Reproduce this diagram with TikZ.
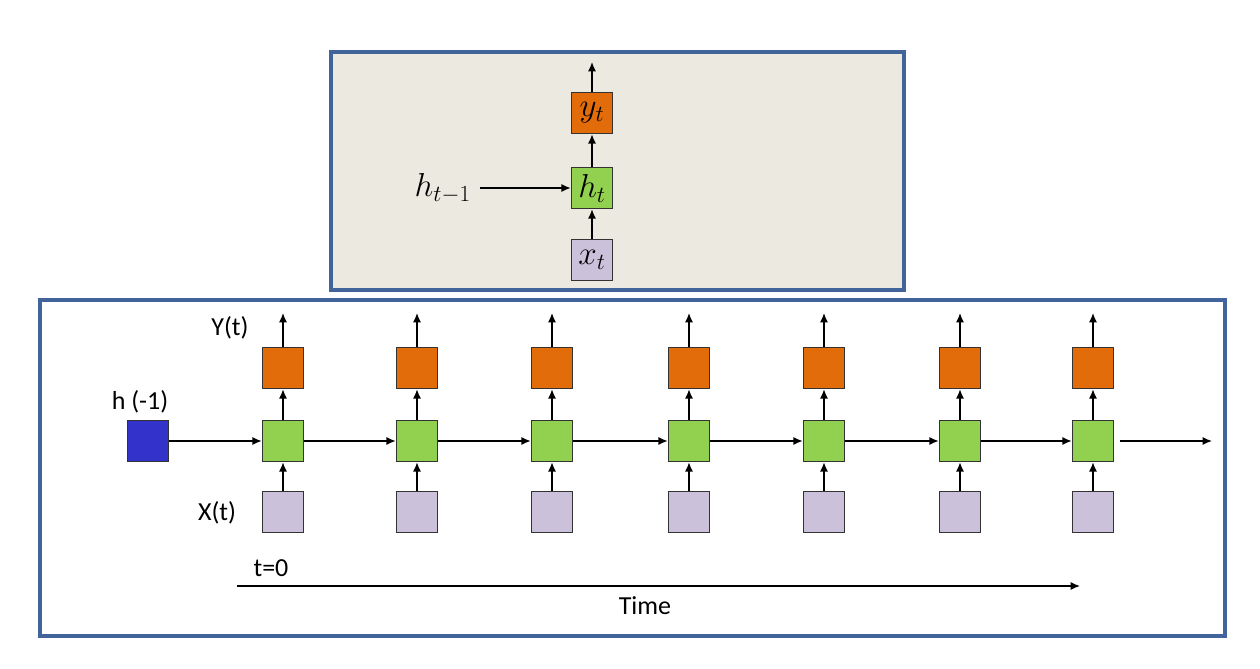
\documentclass[tikz,border=0pt]{standalone}
\usepackage{fontspec}
\setmainfont{Carlito}
\usetikzlibrary{arrows.meta}
\definecolor{frame}{HTML}{41659A}
\definecolor{bg}{HTML}{ECEAE0}
\definecolor{org}{HTML}{E36C0A}
\definecolor{grn}{HTML}{92D050}
\definecolor{pur}{HTML}{CCC1DA}
\definecolor{blu}{HTML}{3333CC}
\tikzset{
  cell/.style={draw=black!80, line width=0.9pt, minimum width=31pt, minimum height=31pt, inner sep=0pt, font=\fontsize{25}{27}\selectfont},
  ycell/.style={cell, fill=org},
  hcell/.style={cell, fill=grn},
  xcell/.style={cell, fill=pur},
  conn/.style={line width=1pt, -{Latex[length=7pt,width=6pt]}},
  lbl/.style={font=\fontsize{19.5}{21}\selectfont, inner sep=0pt},
  mlbl/.style={font=\fontsize{25}{27}\selectfont, inner sep=0pt},
  panel/.style={draw=frame, line width=2.4pt}
}
\begin{document}
\begin{tikzpicture}[x=0.75pt,y=-0.75pt]
\useasboundingbox (0,0) rectangle (1260,668);
% top panel
\draw[panel, fill=bg] (331,52) rectangle (904,290);
\node[ycell] (yt) at (592,113) {$y_t$};
\node[hcell] (ht) at (592,188) {$h_t$};
\node[xcell] (xt) at (592,260) {$x_t$};
\coordinate (ytop) at (592,62);
\node[mlbl, anchor=east] (hprev) at (471,188) {$h_{t-1}$};
\coordinate (hs) at (480,188);
\draw[conn] (xt) -- (ht);
\draw[conn] (ht) -- (yt);
\draw[conn] (yt) -- (ytop);
\draw[conn] (hs) -- (ht);
% bottom panel
\draw[panel] (40,300) rectangle (1225,636);
\node[cell, fill=blu] (h0) at (148,441) {};
\node[lbl] (h0l) at (140,402) {h (-1)};
\foreach \i/\x in {1/283,2/417,3/552,4/689,5/824,6/960,7/1093}{
  \node[ycell] (y\i) at (\x,368) {};
  \node[hcell] (h\i) at (\x,441) {};
  \node[xcell] (x\i) at (\x,512) {};
  \coordinate (o\i) at (\x,313);
  \draw[conn] (x\i) -- (h\i);
  \draw[conn] (h\i) -- (y\i);
  \draw[conn] (y\i) -- (o\i);
}
\draw[conn] (h0) -- (h1);
\foreach \a/\b in {1/2,2/3,3/4,4/5,5/6,6/7}{\draw[conn] (h\a) -- (h\b);}
\coordinate (hend) at (1212,441);
\draw[conn] ([xshift=4pt]h7.east) -- (hend);
\node[lbl] (ylab) at (230,328) {Y(t)};
\node[lbl] (xlab) at (217,513) {X(t)};
% time axis
\coordinate (ts) at (237,586);
\coordinate (te) at (1080,586);
\draw[conn] (ts) -- (te);
\node[lbl] (t0) at (271,568) {t=0};
\node[lbl] (time) at (645,606) {Time};
\end{tikzpicture}
\end{document}
